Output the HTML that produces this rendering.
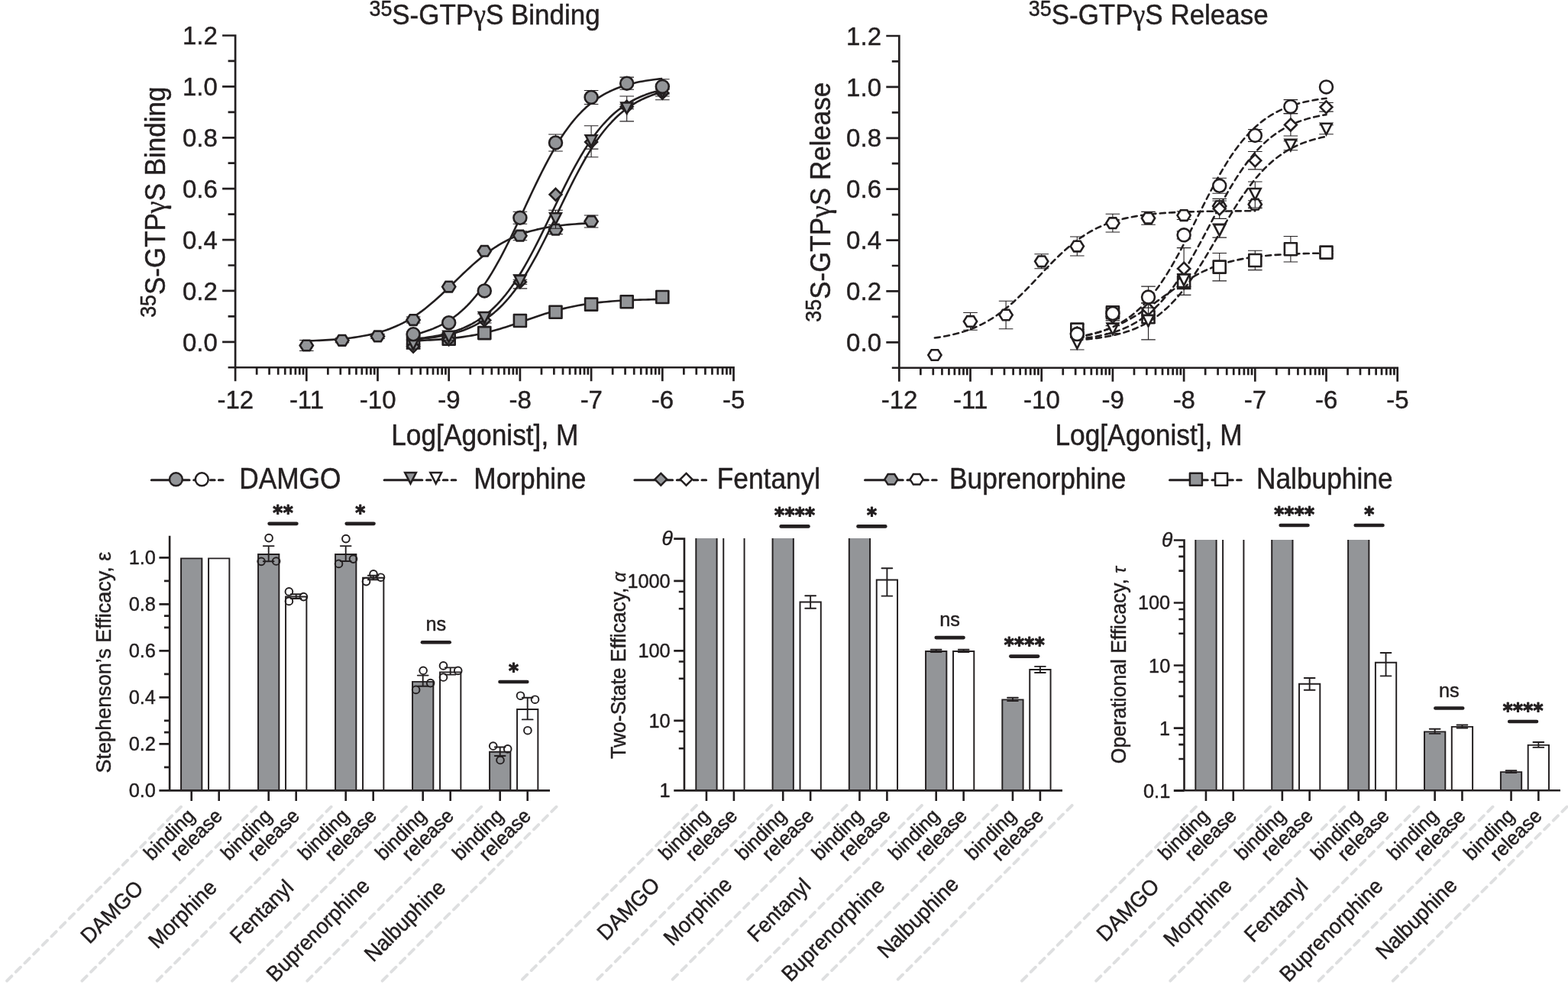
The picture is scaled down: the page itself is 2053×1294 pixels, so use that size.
<!DOCTYPE html>
<html lang="en">
<head>
<meta charset="utf-8">
<title>GTPγS binding and release efficacy figure</title>
<style>
html,body{margin:0;padding:0;background:#fff;}
body{width:2053px;height:1294px;overflow:hidden;}
svg{display:block;}
text{white-space:pre;}
</style>
</head>
<body>
<svg xmlns="http://www.w3.org/2000/svg" width="2053" height="1294" viewBox="0 0 2053 1294" font-family='"Liberation Sans", sans-serif' fill="#231f20">
<rect width="2053" height="1294" fill="#fff"/>
<g stroke="#231f20" stroke-width="0.45" stroke-linejoin="round">
<g>
<text transform="translate(634.6 32.2) scale(1 1.08)" font-size="35" text-anchor="middle"><tspan font-size="26.78" dy="-10.82">35</tspan><tspan dy="10.82">S-GTP</tspan><tspan font-family='"Liberation Serif", serif' font-size="35.7">γ</tspan><tspan>S Binding</tspan></text>
<text transform="translate(215.5 264.7) rotate(-90) scale(1 1.08)" font-size="35" text-anchor="middle"><tspan font-size="26.78" dy="-10.82">35</tspan><tspan dy="10.82">S-GTP</tspan><tspan font-family='"Liberation Serif", serif' font-size="35.7">γ</tspan><tspan>S Binding</tspan></text>
<text transform="translate(634.8 583.4) scale(1 1.08)" font-size="35.3" text-anchor="middle">Log[Agonist], M</text>
<path d="M308.1 45.17V499.24M298.6 481.24H961.85M291.1 447.8H308.1M298.6 414.36H308.1M291.1 380.92H308.1M298.6 347.48H308.1M291.1 314.04H308.1M298.6 280.6H308.1M291.1 247.16H308.1M298.6 213.72H308.1M291.1 180.28H308.1M298.6 146.84H308.1M291.1 113.4H308.1M298.6 79.96H308.1M291.1 46.52H308.1M336.16 481.24V490.74M352.57 481.24V490.74M364.21 481.24V490.74M373.24 481.24V490.74M380.62 481.24V490.74M386.86 481.24V490.74M392.27 481.24V490.74M397.04 481.24V490.74M401.3 481.24V499.24M429.36 481.24V490.74M445.77 481.24V490.74M457.41 481.24V490.74M466.44 481.24V490.74M473.82 481.24V490.74M480.06 481.24V490.74M485.47 481.24V490.74M490.24 481.24V490.74M494.5 481.24V499.24M522.56 481.24V490.74M538.97 481.24V490.74M550.61 481.24V490.74M559.64 481.24V490.74M567.02 481.24V490.74M573.26 481.24V490.74M578.67 481.24V490.74M583.44 481.24V490.74M587.7 481.24V499.24M615.76 481.24V490.74M632.17 481.24V490.74M643.81 481.24V490.74M652.84 481.24V490.74M660.22 481.24V490.74M666.46 481.24V490.74M671.87 481.24V490.74M676.64 481.24V490.74M680.9 481.24V499.24M708.96 481.24V490.74M725.37 481.24V490.74M737.01 481.24V490.74M746.04 481.24V490.74M753.42 481.24V490.74M759.66 481.24V490.74M765.07 481.24V490.74M769.84 481.24V490.74M774.1 481.24V499.24M802.16 481.24V490.74M818.57 481.24V490.74M830.21 481.24V490.74M839.24 481.24V490.74M846.62 481.24V490.74M852.86 481.24V490.74M858.27 481.24V490.74M863.04 481.24V490.74M867.3 481.24V499.24M895.36 481.24V490.74M911.77 481.24V490.74M923.41 481.24V490.74M932.44 481.24V490.74M939.82 481.24V490.74M946.06 481.24V490.74M951.47 481.24V490.74M956.24 481.24V490.74M960.5 481.24V499.24" fill="none" stroke="#231f20" stroke-width="2.7"/>
<text transform="translate(284.8 459.5) scale(1 1.02)" font-size="33" text-anchor="end">0.0</text>
<text transform="translate(284.8 392.62) scale(1 1.02)" font-size="33" text-anchor="end">0.2</text>
<text transform="translate(284.8 325.74) scale(1 1.02)" font-size="33" text-anchor="end">0.4</text>
<text transform="translate(284.8 258.86) scale(1 1.02)" font-size="33" text-anchor="end">0.6</text>
<text transform="translate(284.8 191.98) scale(1 1.02)" font-size="33" text-anchor="end">0.8</text>
<text transform="translate(284.8 125.1) scale(1 1.02)" font-size="33" text-anchor="end">1.0</text>
<text transform="translate(284.8 58.22) scale(1 1.02)" font-size="33" text-anchor="end">1.2</text>
<text transform="translate(308.3 534.6) scale(1 1.02)" font-size="33" text-anchor="middle">-12</text>
<text transform="translate(401.5 534.6) scale(1 1.02)" font-size="33" text-anchor="middle">-11</text>
<text transform="translate(494.7 534.6) scale(1 1.02)" font-size="33" text-anchor="middle">-10</text>
<text transform="translate(587.9 534.6) scale(1 1.02)" font-size="33" text-anchor="middle">-9</text>
<text transform="translate(681.1 534.6) scale(1 1.02)" font-size="33" text-anchor="middle">-8</text>
<text transform="translate(774.3 534.6) scale(1 1.02)" font-size="33" text-anchor="middle">-7</text>
<text transform="translate(867.5 534.6) scale(1 1.02)" font-size="33" text-anchor="middle">-6</text>
<text transform="translate(960.7 534.6) scale(1 1.02)" font-size="33" text-anchor="middle">-5</text>
<path d="M541.1 446.35L544.77 446.22L548.43 446.08L552.1 445.92L555.76 445.75L559.43 445.56L563.09 445.36L566.76 445.14L570.42 444.9L574.09 444.64L577.75 444.36L581.42 444.05L585.08 443.72L588.75 443.36L592.41 442.98L596.08 442.57L599.74 442.12L603.41 441.64L607.07 441.13L610.74 440.57L614.4 439.98L618.07 439.35L621.73 438.68L625.4 437.97L629.06 437.21L632.73 436.41L636.39 435.56L640.06 434.67L643.72 433.74L647.39 432.76L651.06 431.74L654.72 430.68L658.39 429.58L662.05 428.44L665.72 427.28L669.38 426.08L673.05 424.86L676.71 423.61L680.38 422.35L684.04 421.08L687.71 419.8L691.37 418.52L695.04 417.25L698.7 415.98L702.37 414.73L706.03 413.5L709.7 412.29L713.36 411.11L717.03 409.96L720.69 408.85L724.36 407.77L728.02 406.73L731.69 405.74L735.35 404.79L739.02 403.88L742.68 403.01L746.35 402.19L750.01 401.42L753.68 400.69L757.34 400L761.01 399.35L764.68 398.75L768.34 398.18L772.01 397.65L775.67 397.16L779.34 396.7L783 396.27L786.67 395.87L790.33 395.51L794 395.17L797.66 394.85L801.33 394.56L804.99 394.29L808.66 394.04L812.32 393.82L815.99 393.61L819.65 393.41L823.32 393.24L826.98 393.07L830.65 392.92L834.31 392.78L837.98 392.66L841.64 392.54L845.31 392.44L848.97 392.34L852.64 392.25L856.3 392.17L859.97 392.09L863.63 392.02L867.3 391.96" fill="none" stroke="#231f20" stroke-width="2.6"/>
<rect x="533.1" y="439.8" width="16" height="16" fill="#939598" stroke="#231f20" stroke-width="2.6"/>
<rect x="579.7" y="435.79" width="16" height="16" fill="#939598" stroke="#231f20" stroke-width="2.6"/>
<rect x="626.3" y="428.1" width="16" height="16" fill="#939598" stroke="#231f20" stroke-width="2.6"/>
<rect x="672.9" y="412.04" width="16" height="16" fill="#939598" stroke="#231f20" stroke-width="2.6"/>
<rect x="719.5" y="400.68" width="16" height="16" fill="#939598" stroke="#231f20" stroke-width="2.6"/>
<rect x="766.1" y="390.64" width="16" height="16" fill="#939598" stroke="#231f20" stroke-width="2.6"/>
<rect x="812.7" y="387.3" width="16" height="16" fill="#939598" stroke="#231f20" stroke-width="2.6"/>
<rect x="859.3" y="380.95" width="16" height="16" fill="#939598" stroke="#231f20" stroke-width="2.6"/>
<path d="M401.3 446.51L405.49 446.37L409.68 446.22L413.87 446.05L418.06 445.86L422.24 445.65L426.43 445.42L430.62 445.16L434.81 444.88L439 444.57L443.19 444.22L447.38 443.84L451.57 443.42L455.75 442.96L459.94 442.45L464.13 441.89L468.32 441.27L472.51 440.59L476.7 439.84L480.89 439.02L485.08 438.13L489.26 437.14L493.45 436.07L497.64 434.89L501.83 433.61L506.02 432.22L510.21 430.7L514.4 429.06L518.59 427.28L522.77 425.37L526.96 423.3L531.15 421.08L535.34 418.71L539.53 416.17L543.72 413.47L547.91 410.62L552.1 407.6L556.28 404.42L560.47 401.09L564.66 397.62L568.85 394.02L573.04 390.3L577.23 386.47L581.42 382.55L585.61 378.56L589.79 374.53L593.98 370.46L598.17 366.39L602.36 362.33L606.55 358.3L610.74 354.34L614.93 350.45L619.12 346.65L623.3 342.96L627.49 339.4L631.68 335.97L635.87 332.69L640.06 329.56L644.25 326.59L648.44 323.78L652.63 321.13L656.81 318.65L661 316.32L665.19 314.15L669.38 312.13L673.57 310.25L677.76 308.52L681.95 306.92L686.14 305.44L690.32 304.08L694.51 302.83L698.7 301.69L702.89 300.64L707.08 299.69L711.27 298.81L715.46 298.02L719.65 297.29L723.83 296.63L728.02 296.03L732.21 295.49L736.4 294.99L740.59 294.54L744.78 294.14L748.97 293.77L753.16 293.43L757.34 293.13L761.53 292.86L765.72 292.61L769.91 292.38L774.1 292.18" fill="none" stroke="#231f20" stroke-width="2.6"/>
<path d="M401.3 445.48V459.48M392 445.48H410.6M392 459.48H410.6" fill="none" stroke="#231f20" stroke-width="1.1"/>
<path d="M447.9 442.79V448.79M438.6 442.79H457.2M438.6 448.79H457.2" fill="none" stroke="#231f20" stroke-width="1.1"/>
<path d="M494.5 437.44V443.44M485.2 437.44H503.8M485.2 443.44H503.8" fill="none" stroke="#231f20" stroke-width="1.1"/>
<path d="M541.1 415.04V423.04M531.8 415.04H550.4M531.8 423.04H550.4" fill="none" stroke="#231f20" stroke-width="1.1"/>
<path d="M680.9 302.69V314.69M671.6 302.69H690.2M671.6 314.69H690.2" fill="none" stroke="#231f20" stroke-width="1.1"/>
<path d="M727.5 294.66V306.66M718.2 294.66H736.8M718.2 306.66H736.8" fill="none" stroke="#231f20" stroke-width="1.1"/>
<path d="M774.1 281.96V297.96M764.8 281.96H783.4M764.8 297.96H783.4" fill="none" stroke="#231f20" stroke-width="1.1"/>
<polygon points="392.7,452.48 397,445.68 405.6,445.68 409.9,452.48 405.6,459.28 397,459.28" fill="#939598" stroke="#231f20" stroke-width="2.6" stroke-linejoin="miter"/>
<polygon points="439.3,445.79 443.6,438.99 452.2,438.99 456.5,445.79 452.2,452.59 443.6,452.59" fill="#939598" stroke="#231f20" stroke-width="2.6" stroke-linejoin="miter"/>
<polygon points="485.9,440.44 490.2,433.64 498.8,433.64 503.1,440.44 498.8,447.24 490.2,447.24" fill="#939598" stroke="#231f20" stroke-width="2.6" stroke-linejoin="miter"/>
<polygon points="532.5,419.04 536.8,412.24 545.4,412.24 549.7,419.04 545.4,425.84 536.8,425.84" fill="#939598" stroke="#231f20" stroke-width="2.6" stroke-linejoin="miter"/>
<polygon points="579.1,375.57 583.4,368.77 592,368.77 596.3,375.57 592,382.37 583.4,382.37" fill="#939598" stroke="#231f20" stroke-width="2.6" stroke-linejoin="miter"/>
<polygon points="625.7,328.75 630,321.95 638.6,321.95 642.9,328.75 638.6,335.55 630,335.55" fill="#939598" stroke="#231f20" stroke-width="2.6" stroke-linejoin="miter"/>
<polygon points="672.3,308.69 676.6,301.89 685.2,301.89 689.5,308.69 685.2,315.49 676.6,315.49" fill="#939598" stroke="#231f20" stroke-width="2.6" stroke-linejoin="miter"/>
<polygon points="718.9,300.66 723.2,293.86 731.8,293.86 736.1,300.66 731.8,307.46 723.2,307.46" fill="#939598" stroke="#231f20" stroke-width="2.6" stroke-linejoin="miter"/>
<polygon points="765.5,289.96 769.8,283.16 778.4,283.16 782.7,289.96 778.4,296.76 769.8,296.76" fill="#939598" stroke="#231f20" stroke-width="2.6" stroke-linejoin="miter"/>
<path d="M541.1 444.03L544.77 443.68L548.43 443.3L552.1 442.88L555.76 442.42L559.43 441.91L563.09 441.37L566.76 440.77L570.42 440.12L574.09 439.41L577.75 438.64L581.42 437.79L585.08 436.87L588.75 435.88L592.41 434.79L596.08 433.61L599.74 432.32L603.41 430.93L607.07 429.42L610.74 427.78L614.4 426L618.07 424.08L621.73 422L625.4 419.76L629.06 417.34L632.73 414.74L636.39 411.93L640.06 408.92L643.72 405.69L647.39 402.24L651.06 398.55L654.72 394.61L658.39 390.42L662.05 385.98L665.72 381.26L669.38 376.29L673.05 371.04L676.71 365.53L680.38 359.76L684.04 353.72L687.71 347.44L691.37 340.93L695.04 334.19L698.7 327.25L702.37 320.12L706.03 312.83L709.7 305.4L713.36 297.87L717.03 290.26L720.69 282.59L724.36 274.91L728.02 267.24L731.69 259.62L735.35 252.06L739.02 244.62L742.68 237.3L746.35 230.15L750.01 223.17L753.68 216.4L757.34 209.84L761.01 203.52L764.68 197.44L768.34 191.62L772.01 186.07L775.67 180.78L779.34 175.75L783 171L786.67 166.5L790.33 162.27L794 158.29L797.66 154.56L801.33 151.06L804.99 147.8L808.66 144.75L812.32 141.91L815.99 139.28L819.65 136.83L823.32 134.55L826.98 132.45L830.65 130.5L834.31 128.7L837.98 127.04L841.64 125.51L845.31 124.09L848.97 122.79L852.64 121.59L856.3 120.49L859.97 119.47L863.63 118.54L867.3 117.69" fill="none" stroke="#231f20" stroke-width="2.6"/>
<path d="M541.1 450.82V456.82M531.8 450.82H550.4M531.8 456.82H550.4" fill="none" stroke="#231f20" stroke-width="1.1"/>
<path d="M587.7 442.46V446.46M578.4 442.46H597M578.4 446.46H597" fill="none" stroke="#231f20" stroke-width="1.1"/>
<path d="M680.9 366.22V372.22M671.6 366.22H690.2M671.6 372.22H690.2" fill="none" stroke="#231f20" stroke-width="1.1"/>
<path d="M774.1 176.76V195.16M764.8 176.76H783.4M764.8 195.16H783.4" fill="none" stroke="#231f20" stroke-width="1.1"/>
<path d="M820.7 136.82V142.82M811.4 136.82H830M811.4 142.82H830" fill="none" stroke="#231f20" stroke-width="1.1"/>
<path d="M867.3 112.76V130.76M858 112.76H876.6M858 130.76H876.6" fill="none" stroke="#231f20" stroke-width="1.1"/>
<polygon points="541.1,445.92 549,453.82 541.1,461.72 533.2,453.82" fill="#939598" stroke="#231f20" stroke-width="2.6" stroke-linejoin="miter"/>
<polygon points="587.7,436.56 595.6,444.46 587.7,452.36 579.8,444.46" fill="#939598" stroke="#231f20" stroke-width="2.6" stroke-linejoin="miter"/>
<polygon points="634.3,411.48 642.2,419.38 634.3,427.28 626.4,419.38" fill="#939598" stroke="#231f20" stroke-width="2.6" stroke-linejoin="miter"/>
<polygon points="680.9,361.32 688.8,369.22 680.9,377.12 673,369.22" fill="#939598" stroke="#231f20" stroke-width="2.6" stroke-linejoin="miter"/>
<polygon points="727.5,246.95 735.4,254.85 727.5,262.75 719.6,254.85" fill="#939598" stroke="#231f20" stroke-width="2.6" stroke-linejoin="miter"/>
<polygon points="774.1,178.06 782,185.96 774.1,193.86 766.2,185.96" fill="#939598" stroke="#231f20" stroke-width="2.6" stroke-linejoin="miter"/>
<polygon points="820.7,131.92 828.6,139.82 820.7,147.72 812.8,139.82" fill="#939598" stroke="#231f20" stroke-width="2.6" stroke-linejoin="miter"/>
<polygon points="867.3,113.86 875.2,121.76 867.3,129.66 859.4,121.76" fill="#939598" stroke="#231f20" stroke-width="2.6" stroke-linejoin="miter"/>
<path d="M541.1 444.67L544.77 444.38L548.43 444.06L552.1 443.71L555.76 443.32L559.43 442.91L563.09 442.45L566.76 441.95L570.42 441.41L574.09 440.81L577.75 440.17L581.42 439.46L585.08 438.69L588.75 437.85L592.41 436.94L596.08 435.95L599.74 434.87L603.41 433.69L607.07 432.41L610.74 431.03L614.4 429.53L618.07 427.89L621.73 426.13L625.4 424.22L629.06 422.15L632.73 419.92L636.39 417.52L640.06 414.93L643.72 412.14L647.39 409.14L651.06 405.93L654.72 402.5L658.39 398.82L662.05 394.91L665.72 390.74L669.38 386.31L673.05 381.63L676.71 376.67L680.38 371.45L684.04 365.97L687.71 360.22L691.37 354.21L695.04 347.96L698.7 341.47L702.37 334.76L706.03 327.84L709.7 320.74L713.36 313.48L717.03 306.08L720.69 298.57L724.36 290.98L728.02 283.34L731.69 275.68L735.35 268.04L739.02 260.43L742.68 252.9L746.35 245.47L750.01 238.17L753.68 231.03L757.34 224.07L761.01 217.31L764.68 210.76L768.34 204.45L772.01 198.39L775.67 192.58L779.34 187.03L783 181.74L786.67 176.72L790.33 171.97L794 167.49L797.66 163.26L801.33 159.28L804.99 155.55L808.66 152.06L812.32 148.79L815.99 145.75L819.65 142.91L823.32 140.28L826.98 137.83L830.65 135.55L834.31 133.45L837.98 131.5L841.64 129.7L845.31 128.04L848.97 126.51L852.64 125.09L856.3 123.79L859.97 122.59L863.63 121.49L867.3 120.48" fill="none" stroke="#231f20" stroke-width="2.6"/>
<path d="M541.1 445.14V457.14M531.8 445.14H550.4M531.8 457.14H550.4" fill="none" stroke="#231f20" stroke-width="1.1"/>
<path d="M587.7 437.78V445.78M578.4 437.78H597M578.4 445.78H597" fill="none" stroke="#231f20" stroke-width="1.1"/>
<path d="M634.3 411.04V423.04M625 411.04H643.6M625 423.04H643.6" fill="none" stroke="#231f20" stroke-width="1.1"/>
<path d="M680.9 359.88V377.88M671.6 359.88H690.2M671.6 377.88H690.2" fill="none" stroke="#231f20" stroke-width="1.1"/>
<path d="M727.5 275.29V299.29M718.2 275.29H736.8M718.2 299.29H736.8" fill="none" stroke="#231f20" stroke-width="1.1"/>
<path d="M774.1 164.8V205.8M764.8 164.8H783.4M764.8 205.8H783.4" fill="none" stroke="#231f20" stroke-width="1.1"/>
<path d="M820.7 126.06V158.86M811.4 126.06H830M811.4 158.86H830" fill="none" stroke="#231f20" stroke-width="1.1"/>
<path d="M867.3 116.83V126.03M858 116.83H876.6M858 126.03H876.6" fill="none" stroke="#231f20" stroke-width="1.1"/>
<polygon points="533.75,443.16 548.45,443.16 541.1,457.56" fill="#939598" stroke="#231f20" stroke-width="2.6" stroke-linejoin="miter"/>
<polygon points="580.35,433.8 595.05,433.8 587.7,448.2" fill="#939598" stroke="#231f20" stroke-width="2.6" stroke-linejoin="miter"/>
<polygon points="626.95,409.06 641.65,409.06 634.3,423.46" fill="#939598" stroke="#231f20" stroke-width="2.6" stroke-linejoin="miter"/>
<polygon points="673.55,360.9 688.25,360.9 680.9,375.3" fill="#939598" stroke="#231f20" stroke-width="2.6" stroke-linejoin="miter"/>
<polygon points="720.15,279.31 734.85,279.31 727.5,293.71" fill="#939598" stroke="#231f20" stroke-width="2.6" stroke-linejoin="miter"/>
<polygon points="766.75,177.32 781.45,177.32 774.1,191.72" fill="#939598" stroke="#231f20" stroke-width="2.6" stroke-linejoin="miter"/>
<polygon points="813.35,134.48 828.05,134.48 820.7,148.88" fill="#939598" stroke="#231f20" stroke-width="2.6" stroke-linejoin="miter"/>
<polygon points="859.95,113.45 874.65,113.45 867.3,127.85" fill="#939598" stroke="#231f20" stroke-width="2.6" stroke-linejoin="miter"/>
<path d="M541.1 438.45L544.77 437.59L548.43 436.65L552.1 435.64L555.76 434.53L559.43 433.32L563.09 432.01L566.76 430.59L570.42 429.04L574.09 427.37L577.75 425.56L581.42 423.6L585.08 421.47L588.75 419.18L592.41 416.71L596.08 414.05L599.74 411.19L603.41 408.11L607.07 404.82L610.74 401.29L614.4 397.51L618.07 393.49L621.73 389.21L625.4 384.66L629.06 379.84L632.73 374.75L636.39 369.38L640.06 363.74L643.72 357.83L647.39 351.65L651.06 345.22L654.72 338.54L658.39 331.64L662.05 324.52L665.72 317.21L669.38 309.73L673.05 302.11L676.71 294.38L680.38 286.56L684.04 278.69L687.71 270.79L691.37 262.91L695.04 255.07L698.7 247.3L702.37 239.64L706.03 232.11L709.7 224.75L713.36 217.56L717.03 210.58L720.69 203.83L724.36 197.31L728.02 191.04L731.69 185.04L735.35 179.31L739.02 173.85L742.68 168.67L746.35 163.76L750.01 159.12L753.68 154.75L757.34 150.64L761.01 146.78L764.68 143.17L768.34 139.79L772.01 136.64L775.67 133.71L779.34 130.98L783 128.45L786.67 126.1L790.33 123.92L794 121.91L797.66 120.05L801.33 118.33L804.99 116.74L808.66 115.28L812.32 113.93L815.99 112.69L819.65 111.55L823.32 110.5L826.98 109.54L830.65 108.65L834.31 107.84L837.98 107.09L841.64 106.41L845.31 105.78L848.97 105.21L852.64 104.68L856.3 104.2L859.97 103.76L863.63 103.35L867.3 102.98" fill="none" stroke="#231f20" stroke-width="2.6"/>
<path d="M680.9 277.28V293.28M671.6 277.28H690.2M671.6 293.28H690.2" fill="none" stroke="#231f20" stroke-width="1.1"/>
<path d="M727.5 175.97V197.97M718.2 175.97H736.8M718.2 197.97H736.8" fill="none" stroke="#231f20" stroke-width="1.1"/>
<path d="M774.1 118.44V136.44M764.8 118.44H783.4M764.8 136.44H783.4" fill="none" stroke="#231f20" stroke-width="1.1"/>
<path d="M820.7 101.12V117.32M811.4 101.12H830M811.4 117.32H830" fill="none" stroke="#231f20" stroke-width="1.1"/>
<path d="M867.3 103.7V123.1M858 103.7H876.6M858 123.1H876.6" fill="none" stroke="#231f20" stroke-width="1.1"/>
<circle cx="541.1" cy="437.77" r="8.45" fill="#939598" stroke="#231f20" stroke-width="2.6"/>
<circle cx="587.7" cy="422.72" r="8.45" fill="#939598" stroke="#231f20" stroke-width="2.6"/>
<circle cx="634.3" cy="380.92" r="8.45" fill="#939598" stroke="#231f20" stroke-width="2.6"/>
<circle cx="680.9" cy="285.28" r="8.45" fill="#939598" stroke="#231f20" stroke-width="2.6"/>
<circle cx="727.5" cy="186.97" r="8.45" fill="#939598" stroke="#231f20" stroke-width="2.6"/>
<circle cx="774.1" cy="127.44" r="8.45" fill="#939598" stroke="#231f20" stroke-width="2.6"/>
<circle cx="820.7" cy="109.22" r="8.45" fill="#939598" stroke="#231f20" stroke-width="2.6"/>
<circle cx="867.3" cy="113.4" r="8.45" fill="#939598" stroke="#231f20" stroke-width="2.6"/>
</g>
<g>
<text transform="translate(1503.8 32.2) scale(1 1.08)" font-size="35" text-anchor="middle"><tspan font-size="26.78" dy="-10.82">35</tspan><tspan dy="10.82">S-GTP</tspan><tspan font-family='"Liberation Serif", serif' font-size="35.7">γ</tspan><tspan>S Release</tspan></text>
<text transform="translate(1087 264.7) rotate(-90) scale(1 1.08)" font-size="35" text-anchor="middle"><tspan font-size="26.78" dy="-10.82">35</tspan><tspan dy="10.82">S-GTP</tspan><tspan font-family='"Liberation Serif", serif' font-size="35.7">γ</tspan><tspan>S Release</tspan></text>
<text transform="translate(1504 583.4) scale(1 1.08)" font-size="35.3" text-anchor="middle">Log[Agonist], M</text>
<path d="M1177.3 45.67V499.74M1167.8 481.74H1831.05M1160.3 448.3H1177.3M1167.8 414.86H1177.3M1160.3 381.42H1177.3M1167.8 347.98H1177.3M1160.3 314.54H1177.3M1167.8 281.1H1177.3M1160.3 247.66H1177.3M1167.8 214.22H1177.3M1160.3 180.78H1177.3M1167.8 147.34H1177.3M1160.3 113.9H1177.3M1167.8 80.46H1177.3M1160.3 47.02H1177.3M1205.36 481.74V491.24M1221.77 481.74V491.24M1233.41 481.74V491.24M1242.44 481.74V491.24M1249.82 481.74V491.24M1256.06 481.74V491.24M1261.47 481.74V491.24M1266.24 481.74V491.24M1270.5 481.74V499.74M1298.56 481.74V491.24M1314.97 481.74V491.24M1326.61 481.74V491.24M1335.64 481.74V491.24M1343.02 481.74V491.24M1349.26 481.74V491.24M1354.67 481.74V491.24M1359.44 481.74V491.24M1363.7 481.74V499.74M1391.76 481.74V491.24M1408.17 481.74V491.24M1419.81 481.74V491.24M1428.84 481.74V491.24M1436.22 481.74V491.24M1442.46 481.74V491.24M1447.87 481.74V491.24M1452.64 481.74V491.24M1456.9 481.74V499.74M1484.96 481.74V491.24M1501.37 481.74V491.24M1513.01 481.74V491.24M1522.04 481.74V491.24M1529.42 481.74V491.24M1535.66 481.74V491.24M1541.07 481.74V491.24M1545.84 481.74V491.24M1550.1 481.74V499.74M1578.16 481.74V491.24M1594.57 481.74V491.24M1606.21 481.74V491.24M1615.24 481.74V491.24M1622.62 481.74V491.24M1628.86 481.74V491.24M1634.27 481.74V491.24M1639.04 481.74V491.24M1643.3 481.74V499.74M1671.36 481.74V491.24M1687.77 481.74V491.24M1699.41 481.74V491.24M1708.44 481.74V491.24M1715.82 481.74V491.24M1722.06 481.74V491.24M1727.47 481.74V491.24M1732.24 481.74V491.24M1736.5 481.74V499.74M1764.56 481.74V491.24M1780.97 481.74V491.24M1792.61 481.74V491.24M1801.64 481.74V491.24M1809.02 481.74V491.24M1815.26 481.74V491.24M1820.67 481.74V491.24M1825.44 481.74V491.24M1829.7 481.74V499.74" fill="none" stroke="#231f20" stroke-width="2.7"/>
<text transform="translate(1154 460) scale(1 1.02)" font-size="33" text-anchor="end">0.0</text>
<text transform="translate(1154 393.12) scale(1 1.02)" font-size="33" text-anchor="end">0.2</text>
<text transform="translate(1154 326.24) scale(1 1.02)" font-size="33" text-anchor="end">0.4</text>
<text transform="translate(1154 259.36) scale(1 1.02)" font-size="33" text-anchor="end">0.6</text>
<text transform="translate(1154 192.48) scale(1 1.02)" font-size="33" text-anchor="end">0.8</text>
<text transform="translate(1154 125.6) scale(1 1.02)" font-size="33" text-anchor="end">1.0</text>
<text transform="translate(1154 58.72) scale(1 1.02)" font-size="33" text-anchor="end">1.2</text>
<text transform="translate(1177.5 534.6) scale(1 1.02)" font-size="33" text-anchor="middle">-12</text>
<text transform="translate(1270.7 534.6) scale(1 1.02)" font-size="33" text-anchor="middle">-11</text>
<text transform="translate(1363.9 534.6) scale(1 1.02)" font-size="33" text-anchor="middle">-10</text>
<text transform="translate(1457.1 534.6) scale(1 1.02)" font-size="33" text-anchor="middle">-9</text>
<text transform="translate(1550.3 534.6) scale(1 1.02)" font-size="33" text-anchor="middle">-8</text>
<text transform="translate(1643.5 534.6) scale(1 1.02)" font-size="33" text-anchor="middle">-7</text>
<text transform="translate(1736.7 534.6) scale(1 1.02)" font-size="33" text-anchor="middle">-6</text>
<text transform="translate(1829.9 534.6) scale(1 1.02)" font-size="33" text-anchor="middle">-5</text>
<path d="M1410.3 441.29L1413.97 440.67L1417.63 439.99L1421.3 439.27L1424.96 438.48L1428.63 437.64L1432.29 436.73L1435.96 435.75L1439.62 434.7L1443.29 433.57L1446.95 432.36L1450.62 431.07L1454.28 429.7L1457.95 428.24L1461.61 426.69L1465.28 425.04L1468.94 423.31L1472.61 421.48L1476.27 419.56L1479.94 417.55L1483.6 415.45L1487.27 413.27L1490.93 411L1494.6 408.66L1498.26 406.25L1501.93 403.78L1505.59 401.25L1509.26 398.67L1512.92 396.06L1516.59 393.43L1520.26 390.78L1523.92 388.12L1527.59 385.47L1531.25 382.84L1534.92 380.23L1538.58 377.66L1542.25 375.14L1545.91 372.67L1549.58 370.27L1553.24 367.94L1556.91 365.68L1560.57 363.51L1564.24 361.42L1567.9 359.42L1571.57 357.51L1575.23 355.7L1578.9 353.97L1582.56 352.34L1586.23 350.8L1589.89 349.35L1593.56 347.99L1597.22 346.71L1600.89 345.51L1604.55 344.4L1608.22 343.35L1611.88 342.38L1615.55 341.48L1619.21 340.64L1622.88 339.86L1626.54 339.14L1630.21 338.48L1633.88 337.86L1637.54 337.3L1641.21 336.77L1644.87 336.29L1648.54 335.84L1652.2 335.43L1655.87 335.06L1659.53 334.71L1663.2 334.39L1666.86 334.1L1670.53 333.83L1674.19 333.59L1677.86 333.36L1681.52 333.15L1685.19 332.97L1688.85 332.79L1692.52 332.63L1696.18 332.49L1699.85 332.35L1703.51 332.23L1707.18 332.12L1710.84 332.02L1714.51 331.92L1718.17 331.84L1721.84 331.76L1725.5 331.69L1729.17 331.62L1732.83 331.56L1736.5 331.51" fill="none" stroke="#231f20" stroke-width="2.6" stroke-dasharray="7 5.4" stroke-linecap="round"/>
<path d="M1410.3 424.58V438.58M1401 424.58H1419.6M1401 438.58H1419.6" fill="none" stroke="#231f20" stroke-width="1.1"/>
<path d="M1456.9 403.18V415.18M1447.6 403.18H1466.2M1447.6 415.18H1466.2" fill="none" stroke="#231f20" stroke-width="1.1"/>
<path d="M1503.5 407.19V423.19M1494.2 407.19H1512.8M1494.2 423.19H1512.8" fill="none" stroke="#231f20" stroke-width="1.1"/>
<path d="M1550.1 352.38V386.38M1540.8 352.38H1559.4M1540.8 386.38H1559.4" fill="none" stroke="#231f20" stroke-width="1.1"/>
<path d="M1596.7 331.45V367.85M1587.4 331.45H1606M1587.4 367.85H1606" fill="none" stroke="#231f20" stroke-width="1.1"/>
<path d="M1643.3 328.26V353.66M1634 328.26H1652.6M1634 353.66H1652.6" fill="none" stroke="#231f20" stroke-width="1.1"/>
<path d="M1689.9 309.44V343.04M1680.6 309.44H1699.2M1680.6 343.04H1699.2" fill="none" stroke="#231f20" stroke-width="1.1"/>
<path d="M1736.5 328.59V332.59M1727.2 328.59H1745.8M1727.2 332.59H1745.8" fill="none" stroke="#231f20" stroke-width="1.1"/>
<rect x="1402.3" y="423.58" width="16" height="16" fill="#fff" stroke="#231f20" stroke-width="2.6"/>
<rect x="1448.9" y="401.18" width="16" height="16" fill="#fff" stroke="#231f20" stroke-width="2.6"/>
<rect x="1495.5" y="407.19" width="16" height="16" fill="#fff" stroke="#231f20" stroke-width="2.6"/>
<rect x="1542.1" y="361.38" width="16" height="16" fill="#fff" stroke="#231f20" stroke-width="2.6"/>
<rect x="1588.7" y="341.65" width="16" height="16" fill="#fff" stroke="#231f20" stroke-width="2.6"/>
<rect x="1635.3" y="332.96" width="16" height="16" fill="#fff" stroke="#231f20" stroke-width="2.6"/>
<rect x="1681.9" y="318.24" width="16" height="16" fill="#fff" stroke="#231f20" stroke-width="2.6"/>
<rect x="1728.5" y="322.59" width="16" height="16" fill="#fff" stroke="#231f20" stroke-width="2.6"/>
<path d="M1223.9 442.53L1228.61 441.84L1233.32 441.08L1238.04 440.23L1242.75 439.28L1247.46 438.24L1252.17 437.08L1256.89 435.79L1261.6 434.37L1266.31 432.81L1271.02 431.08L1275.74 429.19L1280.45 427.12L1285.16 424.87L1289.87 422.41L1294.59 419.74L1299.3 416.86L1304.01 413.75L1308.72 410.43L1313.43 406.88L1318.15 403.1L1322.86 399.12L1327.57 394.93L1332.28 390.55L1337 385.99L1341.71 381.3L1346.42 376.47L1351.13 371.56L1355.85 366.58L1360.56 361.57L1365.27 356.56L1369.98 351.6L1374.7 346.7L1379.41 341.91L1384.12 337.24L1388.83 332.73L1393.54 328.4L1398.26 324.26L1402.97 320.32L1407.68 316.6L1412.39 313.11L1417.11 309.84L1421.82 306.79L1426.53 303.96L1431.24 301.35L1435.96 298.94L1440.67 296.73L1445.38 294.7L1450.09 292.86L1454.81 291.17L1459.52 289.65L1464.23 288.26L1468.94 287.01L1473.66 285.88L1478.37 284.85L1483.08 283.93L1487.79 283.11L1492.5 282.36L1497.22 281.7L1501.93 281.1L1506.64 280.56L1511.35 280.08L1516.07 279.65L1520.78 279.27L1525.49 278.92L1530.2 278.61L1534.92 278.34L1539.63 278.09L1544.34 277.88L1549.05 277.68L1553.77 277.51L1558.48 277.35L1563.19 277.21L1567.9 277.09L1572.61 276.98L1577.33 276.88L1582.04 276.79L1586.75 276.72L1591.46 276.65L1596.18 276.59L1600.89 276.53L1605.6 276.48L1610.31 276.44L1615.03 276.4L1619.74 276.36L1624.45 276.33L1629.16 276.31L1633.88 276.28L1638.59 276.26L1643.3 276.24" fill="none" stroke="#231f20" stroke-width="2.6" stroke-dasharray="7 5.4" stroke-linecap="round"/>
<path d="M1270.5 409.48V432.28M1261.2 409.48H1279.8M1261.2 432.28H1279.8" fill="none" stroke="#231f20" stroke-width="1.1"/>
<path d="M1317.1 394.22V430.82M1307.8 394.22H1326.4M1307.8 430.82H1326.4" fill="none" stroke="#231f20" stroke-width="1.1"/>
<path d="M1363.7 332.8V351.8M1354.4 332.8H1373M1354.4 351.8H1373" fill="none" stroke="#231f20" stroke-width="1.1"/>
<path d="M1410.3 310.07V335.07M1401 310.07H1419.6M1401 335.07H1419.6" fill="none" stroke="#231f20" stroke-width="1.1"/>
<path d="M1456.9 280.24V304.04M1447.6 280.24H1466.2M1447.6 304.04H1466.2" fill="none" stroke="#231f20" stroke-width="1.1"/>
<path d="M1503.5 277.38V294.18M1494.2 277.38H1512.8M1494.2 294.18H1512.8" fill="none" stroke="#231f20" stroke-width="1.1"/>
<path d="M1550.1 276.7V287.5M1540.8 276.7H1559.4M1540.8 287.5H1559.4" fill="none" stroke="#231f20" stroke-width="1.1"/>
<path d="M1596.7 263.06V277.06M1587.4 263.06H1606M1587.4 277.06H1606" fill="none" stroke="#231f20" stroke-width="1.1"/>
<path d="M1643.3 262.72V272.72M1634 262.72H1652.6M1634 272.72H1652.6" fill="none" stroke="#231f20" stroke-width="1.1"/>
<polygon points="1215.3,465.02 1219.6,458.22 1228.2,458.22 1232.5,465.02 1228.2,471.82 1219.6,471.82" fill="#fff" stroke="#231f20" stroke-width="2.6" stroke-linejoin="miter"/>
<polygon points="1261.9,420.88 1266.2,414.08 1274.8,414.08 1279.1,420.88 1274.8,427.68 1266.2,427.68" fill="#fff" stroke="#231f20" stroke-width="2.6" stroke-linejoin="miter"/>
<polygon points="1308.5,412.52 1312.8,405.72 1321.4,405.72 1325.7,412.52 1321.4,419.32 1312.8,419.32" fill="#fff" stroke="#231f20" stroke-width="2.6" stroke-linejoin="miter"/>
<polygon points="1355.1,342.3 1359.4,335.5 1368,335.5 1372.3,342.3 1368,349.1 1359.4,349.1" fill="#fff" stroke="#231f20" stroke-width="2.6" stroke-linejoin="miter"/>
<polygon points="1401.7,322.57 1406,315.77 1414.6,315.77 1418.9,322.57 1414.6,329.37 1406,329.37" fill="#fff" stroke="#231f20" stroke-width="2.6" stroke-linejoin="miter"/>
<polygon points="1448.3,292.14 1452.6,285.34 1461.2,285.34 1465.5,292.14 1461.2,298.94 1452.6,298.94" fill="#fff" stroke="#231f20" stroke-width="2.6" stroke-linejoin="miter"/>
<polygon points="1494.9,285.78 1499.2,278.98 1507.8,278.98 1512.1,285.78 1507.8,292.58 1499.2,292.58" fill="#fff" stroke="#231f20" stroke-width="2.6" stroke-linejoin="miter"/>
<polygon points="1541.5,282.1 1545.8,275.3 1554.4,275.3 1558.7,282.1 1554.4,288.9 1545.8,288.9" fill="#fff" stroke="#231f20" stroke-width="2.6" stroke-linejoin="miter"/>
<polygon points="1588.1,270.06 1592.4,263.26 1601,263.26 1605.3,270.06 1601,276.86 1592.4,276.86" fill="#fff" stroke="#231f20" stroke-width="2.6" stroke-linejoin="miter"/>
<polygon points="1634.7,267.72 1639,260.92 1647.6,260.92 1651.9,267.72 1647.6,274.52 1639,274.52" fill="#fff" stroke="#231f20" stroke-width="2.6" stroke-linejoin="miter"/>
<path d="M1410.3 444.12L1413.97 443.73L1417.63 443.3L1421.3 442.84L1424.96 442.33L1428.63 441.78L1432.29 441.17L1435.96 440.51L1439.62 439.8L1443.29 439.02L1446.95 438.16L1450.62 437.24L1454.28 436.23L1457.95 435.14L1461.61 433.95L1465.28 432.66L1468.94 431.26L1472.61 429.74L1476.27 428.1L1479.94 426.32L1483.6 424.4L1487.27 422.33L1490.93 420.1L1494.6 417.69L1498.26 415.11L1501.93 412.33L1505.59 409.36L1509.26 406.18L1512.92 402.78L1516.59 399.16L1520.26 395.31L1523.92 391.23L1527.59 386.91L1531.25 382.35L1534.92 377.55L1538.58 372.51L1542.25 367.24L1545.91 361.74L1549.58 356.02L1553.24 350.09L1556.91 343.96L1560.57 337.66L1564.24 331.2L1567.9 324.6L1571.57 317.89L1575.23 311.09L1578.9 304.23L1582.56 297.34L1586.23 290.44L1589.89 283.56L1593.56 276.73L1597.22 269.97L1600.89 263.32L1604.55 256.8L1608.22 250.43L1611.88 244.22L1615.55 238.21L1619.21 232.39L1622.88 226.79L1626.54 221.41L1630.21 216.27L1633.88 211.37L1637.54 206.7L1641.21 202.27L1644.87 198.09L1648.54 194.14L1652.2 190.42L1655.87 186.92L1659.53 183.65L1663.2 180.58L1666.86 177.72L1670.53 175.05L1674.19 172.57L1677.86 170.26L1681.52 168.12L1685.19 166.13L1688.85 164.3L1692.52 162.59L1696.18 161.02L1699.85 159.57L1703.51 158.24L1707.18 157L1710.84 155.87L1714.51 154.82L1718.17 153.86L1721.84 152.98L1725.5 152.17L1729.17 151.42L1732.83 150.74L1736.5 150.11" fill="none" stroke="#231f20" stroke-width="2.6" stroke-dasharray="7 5.4" stroke-linecap="round"/>
<path d="M1410.3 431.6V441.6M1401 431.6H1419.6M1401 441.6H1419.6" fill="none" stroke="#231f20" stroke-width="1.1"/>
<path d="M1456.9 409.86V419.86M1447.6 409.86H1466.2M1447.6 419.86H1466.2" fill="none" stroke="#231f20" stroke-width="1.1"/>
<path d="M1503.5 396.83V412.83M1494.2 396.83H1512.8M1494.2 412.83H1512.8" fill="none" stroke="#231f20" stroke-width="1.1"/>
<path d="M1550.1 324.66V378.66M1540.8 324.66H1559.4M1540.8 378.66H1559.4" fill="none" stroke="#231f20" stroke-width="1.1"/>
<path d="M1596.7 260.41V286.41M1587.4 260.41H1606M1587.4 286.41H1606" fill="none" stroke="#231f20" stroke-width="1.1"/>
<path d="M1643.3 198.51V221.91M1634 198.51H1652.6M1634 221.91H1652.6" fill="none" stroke="#231f20" stroke-width="1.1"/>
<path d="M1689.9 148.79V177.99M1680.6 148.79H1699.2M1680.6 177.99H1699.2" fill="none" stroke="#231f20" stroke-width="1.1"/>
<path d="M1736.5 134.52V146.12M1727.2 134.52H1745.8M1727.2 146.12H1745.8" fill="none" stroke="#231f20" stroke-width="1.1"/>
<polygon points="1410.3,428.7 1418.2,436.6 1410.3,444.5 1402.4,436.6" fill="#fff" stroke="#231f20" stroke-width="2.6" stroke-linejoin="miter"/>
<polygon points="1456.9,406.96 1464.8,414.86 1456.9,422.76 1449,414.86" fill="#fff" stroke="#231f20" stroke-width="2.6" stroke-linejoin="miter"/>
<polygon points="1503.5,396.93 1511.4,404.83 1503.5,412.73 1495.6,404.83" fill="#fff" stroke="#231f20" stroke-width="2.6" stroke-linejoin="miter"/>
<polygon points="1550.1,343.76 1558,351.66 1550.1,359.56 1542.2,351.66" fill="#fff" stroke="#231f20" stroke-width="2.6" stroke-linejoin="miter"/>
<polygon points="1596.7,265.51 1604.6,273.41 1596.7,281.31 1588.8,273.41" fill="#fff" stroke="#231f20" stroke-width="2.6" stroke-linejoin="miter"/>
<polygon points="1643.3,202.31 1651.2,210.21 1643.3,218.11 1635.4,210.21" fill="#fff" stroke="#231f20" stroke-width="2.6" stroke-linejoin="miter"/>
<polygon points="1689.9,155.49 1697.8,163.39 1689.9,171.29 1682,163.39" fill="#fff" stroke="#231f20" stroke-width="2.6" stroke-linejoin="miter"/>
<polygon points="1736.5,132.42 1744.4,140.32 1736.5,148.22 1728.6,140.32" fill="#fff" stroke="#231f20" stroke-width="2.6" stroke-linejoin="miter"/>
<path d="M1410.3 445.4L1413.97 445.13L1417.63 444.83L1421.3 444.5L1424.96 444.15L1428.63 443.76L1432.29 443.34L1435.96 442.88L1439.62 442.38L1443.29 441.83L1446.95 441.23L1450.62 440.58L1454.28 439.87L1457.95 439.1L1461.61 438.26L1465.28 437.34L1468.94 436.35L1472.61 435.27L1476.27 434.1L1479.94 432.83L1483.6 431.45L1487.27 429.96L1490.93 428.34L1494.6 426.6L1498.26 424.72L1501.93 422.69L1505.59 420.5L1509.26 418.16L1512.92 415.63L1516.59 412.93L1520.26 410.04L1523.92 406.96L1527.59 403.67L1531.25 400.17L1534.92 396.46L1538.58 392.54L1542.25 388.39L1545.91 384.03L1549.58 379.45L1553.24 374.66L1556.91 369.65L1560.57 364.45L1564.24 359.06L1567.9 353.49L1571.57 347.76L1575.23 341.88L1578.9 335.88L1582.56 329.78L1586.23 323.59L1589.89 317.35L1593.56 311.07L1597.22 304.79L1600.89 298.53L1604.55 292.31L1608.22 286.17L1611.88 280.11L1615.55 274.17L1619.21 268.37L1622.88 262.72L1626.54 257.24L1630.21 251.94L1633.88 246.84L1637.54 241.94L1641.21 237.25L1644.87 232.78L1648.54 228.53L1652.2 224.5L1655.87 220.68L1659.53 217.08L1663.2 213.69L1666.86 210.5L1670.53 207.52L1674.19 204.72L1677.86 202.12L1681.52 199.68L1685.19 197.42L1688.85 195.31L1692.52 193.36L1696.18 191.55L1699.85 189.87L1703.51 188.32L1707.18 186.89L1710.84 185.57L1714.51 184.35L1718.17 183.22L1721.84 182.19L1725.5 181.23L1729.17 180.36L1732.83 179.55L1736.5 178.81" fill="none" stroke="#231f20" stroke-width="2.6" stroke-dasharray="7 5.4" stroke-linecap="round"/>
<path d="M1410.3 441.97V457.97M1401 441.97H1419.6M1401 457.97H1419.6" fill="none" stroke="#231f20" stroke-width="1.1"/>
<path d="M1456.9 426.58V436.58M1447.6 426.58H1466.2M1447.6 436.58H1466.2" fill="none" stroke="#231f20" stroke-width="1.1"/>
<path d="M1503.5 396.88V444.88M1494.2 396.88H1512.8M1494.2 444.88H1512.8" fill="none" stroke="#231f20" stroke-width="1.1"/>
<path d="M1550.1 359.38V375.38M1540.8 359.38H1559.4M1540.8 375.38H1559.4" fill="none" stroke="#231f20" stroke-width="1.1"/>
<path d="M1596.7 293.17V311.17M1587.4 293.17H1606M1587.4 311.17H1606" fill="none" stroke="#231f20" stroke-width="1.1"/>
<path d="M1643.3 238.02V272.02M1634 238.02H1652.6M1634 272.02H1652.6" fill="none" stroke="#231f20" stroke-width="1.1"/>
<path d="M1689.9 184.81V196.81M1680.6 184.81H1699.2M1680.6 196.81H1699.2" fill="none" stroke="#231f20" stroke-width="1.1"/>
<path d="M1736.5 163.74V175.74M1727.2 163.74H1745.8M1727.2 175.74H1745.8" fill="none" stroke="#231f20" stroke-width="1.1"/>
<polygon points="1402.95,441.99 1417.65,441.99 1410.3,456.39" fill="#fff" stroke="#231f20" stroke-width="2.6" stroke-linejoin="miter"/>
<polygon points="1449.55,423.6 1464.25,423.6 1456.9,438" fill="#fff" stroke="#231f20" stroke-width="2.6" stroke-linejoin="miter"/>
<polygon points="1496.15,412.9 1510.85,412.9 1503.5,427.3" fill="#fff" stroke="#231f20" stroke-width="2.6" stroke-linejoin="miter"/>
<polygon points="1542.75,359.4 1557.45,359.4 1550.1,373.8" fill="#fff" stroke="#231f20" stroke-width="2.6" stroke-linejoin="miter"/>
<polygon points="1589.35,294.19 1604.05,294.19 1596.7,308.59" fill="#fff" stroke="#231f20" stroke-width="2.6" stroke-linejoin="miter"/>
<polygon points="1635.95,247.04 1650.65,247.04 1643.3,261.44" fill="#fff" stroke="#231f20" stroke-width="2.6" stroke-linejoin="miter"/>
<polygon points="1682.55,182.83 1697.25,182.83 1689.9,197.23" fill="#fff" stroke="#231f20" stroke-width="2.6" stroke-linejoin="miter"/>
<polygon points="1729.15,161.76 1743.85,161.76 1736.5,176.16" fill="#fff" stroke="#231f20" stroke-width="2.6" stroke-linejoin="miter"/>
<path d="M1410.3 441.68L1413.97 441.06L1417.63 440.39L1421.3 439.66L1424.96 438.87L1428.63 438L1432.29 437.06L1435.96 436.04L1439.62 434.92L1443.29 433.71L1446.95 432.4L1450.62 430.97L1454.28 429.42L1457.95 427.75L1461.61 425.93L1465.28 423.97L1468.94 421.86L1472.61 419.57L1476.27 417.11L1479.94 414.46L1483.6 411.62L1487.27 408.57L1490.93 405.3L1494.6 401.81L1498.26 398.09L1501.93 394.12L1505.59 389.91L1509.26 385.45L1512.92 380.73L1516.59 375.76L1520.26 370.54L1523.92 365.06L1527.59 359.33L1531.25 353.37L1534.92 347.18L1538.58 340.77L1542.25 334.16L1545.91 327.38L1549.58 320.44L1553.24 313.36L1556.91 306.17L1560.57 298.91L1564.24 291.59L1567.9 284.25L1571.57 276.91L1575.23 269.62L1578.9 262.39L1582.56 255.26L1586.23 248.24L1589.89 241.38L1593.56 234.68L1597.22 228.18L1600.89 221.88L1604.55 215.8L1608.22 209.95L1611.88 204.35L1615.55 199L1619.21 193.91L1622.88 189.06L1626.54 184.48L1630.21 180.14L1633.88 176.06L1637.54 172.22L1641.21 168.61L1644.87 165.24L1648.54 162.08L1652.2 159.14L1655.87 156.4L1659.53 153.85L1663.2 151.48L1666.86 149.28L1670.53 147.24L1674.19 145.36L1677.86 143.61L1681.52 142L1685.19 140.52L1688.85 139.15L1692.52 137.89L1696.18 136.73L1699.85 135.66L1703.51 134.68L1707.18 133.78L1710.84 132.95L1714.51 132.19L1718.17 131.49L1721.84 130.85L1725.5 130.26L1729.17 129.72L1732.83 129.23L1736.5 128.78" fill="none" stroke="#231f20" stroke-width="2.6" stroke-dasharray="7 5.4" stroke-linecap="round"/>
<path d="M1410.3 434.6V440.6M1401 434.6H1419.6M1401 440.6H1419.6" fill="none" stroke="#231f20" stroke-width="1.1"/>
<path d="M1456.9 407.51V413.51M1447.6 407.51H1466.2M1447.6 413.51H1466.2" fill="none" stroke="#231f20" stroke-width="1.1"/>
<path d="M1503.5 375.11V403.11M1494.2 375.11H1512.8M1494.2 403.11H1512.8" fill="none" stroke="#231f20" stroke-width="1.1"/>
<path d="M1550.1 302.85V312.85M1540.8 302.85H1559.4M1540.8 312.85H1559.4" fill="none" stroke="#231f20" stroke-width="1.1"/>
<path d="M1596.7 233.31V253.31M1587.4 233.31H1606M1587.4 253.31H1606" fill="none" stroke="#231f20" stroke-width="1.1"/>
<path d="M1643.3 169.44V185.44M1634 169.44H1652.6M1634 185.44H1652.6" fill="none" stroke="#231f20" stroke-width="1.1"/>
<path d="M1689.9 130.65V148.65M1680.6 130.65H1699.2M1680.6 148.65H1699.2" fill="none" stroke="#231f20" stroke-width="1.1"/>
<circle cx="1410.3" cy="437.6" r="8.45" fill="#fff" stroke="#231f20" stroke-width="2.6"/>
<circle cx="1456.9" cy="410.51" r="8.45" fill="#fff" stroke="#231f20" stroke-width="2.6"/>
<circle cx="1503.5" cy="389.11" r="8.45" fill="#fff" stroke="#231f20" stroke-width="2.6"/>
<circle cx="1550.1" cy="307.85" r="8.45" fill="#fff" stroke="#231f20" stroke-width="2.6"/>
<circle cx="1596.7" cy="243.31" r="8.45" fill="#fff" stroke="#231f20" stroke-width="2.6"/>
<circle cx="1643.3" cy="177.44" r="8.45" fill="#fff" stroke="#231f20" stroke-width="2.6"/>
<circle cx="1689.9" cy="139.65" r="8.45" fill="#fff" stroke="#231f20" stroke-width="2.6"/>
<circle cx="1736.5" cy="113.9" r="8.45" fill="#fff" stroke="#231f20" stroke-width="2.6"/>
</g>
<path d="M198.3 628.8H248" stroke="#231f20" stroke-width="3.0" stroke-linecap="round" fill="none"/>
<path d="M253.7 628.8H292.8" stroke="#231f20" stroke-width="3.0" stroke-dasharray="5.6 5.3" stroke-linecap="round" fill="none"/>
<circle cx="230.4" cy="627.8" r="8.45" fill="#939598" stroke="#231f20" stroke-width="2.5"/>
<circle cx="264.3" cy="627.8" r="8.45" fill="#fff" stroke="#231f20" stroke-width="2.5"/>
<text transform="translate(313.2 639.7) scale(1 1.08)" font-size="35.3">DAMGO</text>
<path d="M503.1 628.8H552.8" stroke="#231f20" stroke-width="3.0" stroke-linecap="round" fill="none"/>
<path d="M558.5 628.8H597.6" stroke="#231f20" stroke-width="3.0" stroke-dasharray="5.6 5.3" stroke-linecap="round" fill="none"/>
<polygon points="530.15,619.02 544.85,619.02 537.5,633.42" fill="#939598" stroke="#231f20" stroke-width="2.5" stroke-linejoin="miter"/>
<polygon points="563.35,619.02 578.05,619.02 570.7,633.42" fill="#fff" stroke="#231f20" stroke-width="2.5" stroke-linejoin="miter"/>
<text transform="translate(620.3 639.7) scale(1 1.08)" font-size="35.3">Morphine</text>
<path d="M830.9 628.8H880.6" stroke="#231f20" stroke-width="3.0" stroke-linecap="round" fill="none"/>
<path d="M886.3 628.8H925.4" stroke="#231f20" stroke-width="3.0" stroke-dasharray="5.6 5.3" stroke-linecap="round" fill="none"/>
<polygon points="865.3,619.9 873.2,627.8 865.3,635.7 857.4,627.8" fill="#939598" stroke="#231f20" stroke-width="2.5" stroke-linejoin="miter"/>
<polygon points="898.5,619.9 906.4,627.8 898.5,635.7 890.6,627.8" fill="#fff" stroke="#231f20" stroke-width="2.5" stroke-linejoin="miter"/>
<text transform="translate(938.8 639.7) scale(1 1.08)" font-size="35.3">Fentanyl</text>
<path d="M1132.5 628.8H1182.2" stroke="#231f20" stroke-width="3.0" stroke-linecap="round" fill="none"/>
<path d="M1187.9 628.8H1227" stroke="#231f20" stroke-width="3.0" stroke-dasharray="5.6 5.3" stroke-linecap="round" fill="none"/>
<polygon points="1158.3,627.8 1162.6,621 1171.2,621 1175.5,627.8 1171.2,634.6 1162.6,634.6" fill="#939598" stroke="#231f20" stroke-width="2.5" stroke-linejoin="miter"/>
<polygon points="1191.5,627.8 1195.8,621 1204.4,621 1208.7,627.8 1204.4,634.6 1195.8,634.6" fill="#fff" stroke="#231f20" stroke-width="2.5" stroke-linejoin="miter"/>
<text transform="translate(1243 639.7) scale(1 1.08)" font-size="35.3">Buprenorphine</text>
<path d="M1531.5 628.8H1581.2" stroke="#231f20" stroke-width="3.0" stroke-linecap="round" fill="none"/>
<path d="M1586.9 628.8H1626" stroke="#231f20" stroke-width="3.0" stroke-dasharray="5.6 5.3" stroke-linecap="round" fill="none"/>
<rect x="1557.9" y="619.8" width="16" height="16" fill="#939598" stroke="#231f20" stroke-width="2.5"/>
<rect x="1591.1" y="619.8" width="16" height="16" fill="#fff" stroke="#231f20" stroke-width="2.5"/>
<text transform="translate(1645 639.7) scale(1 1.08)" font-size="35.3">Nalbuphine</text>
<g>
<path d="M237 1056.7L4.9 1288.8" stroke="#dedfe0" stroke-width="3.9" stroke-dasharray="8.8 7.7" stroke-linecap="round" fill="none"/>
<path d="M335.3 1056.7L103.2 1288.8" stroke="#dedfe0" stroke-width="3.9" stroke-dasharray="8.8 7.7" stroke-linecap="round" fill="none"/>
<path d="M433.6 1056.7L201.5 1288.8" stroke="#dedfe0" stroke-width="3.9" stroke-dasharray="8.8 7.7" stroke-linecap="round" fill="none"/>
<path d="M531.9 1056.7L299.8 1288.8" stroke="#dedfe0" stroke-width="3.9" stroke-dasharray="8.8 7.7" stroke-linecap="round" fill="none"/>
<path d="M630.2 1056.7L398.1 1288.8" stroke="#dedfe0" stroke-width="3.9" stroke-dasharray="8.8 7.7" stroke-linecap="round" fill="none"/>
<path d="M728.5 1056.7L496.4 1288.8" stroke="#dedfe0" stroke-width="3.9" stroke-dasharray="8.8 7.7" stroke-linecap="round" fill="none"/>
<path d="M237.05 1035.4V731.38H264.35V1035.4" fill="#939598" stroke="#231f20" stroke-width="1.95" stroke-linejoin="miter"/>
<path d="M273.05 1035.4V731.38H300.35V1035.4" fill="#fff" stroke="#231f20" stroke-width="1.95" stroke-linejoin="miter"/>
<path d="M338.05 1035.4V726.08H365.35V1035.4" fill="#939598" stroke="#231f20" stroke-width="1.95" stroke-linejoin="miter"/>
<path d="M374.05 1035.4V781.58H401.35V1035.4" fill="#fff" stroke="#231f20" stroke-width="1.95" stroke-linejoin="miter"/>
<path d="M439.05 1035.4V726.08H466.35V1035.4" fill="#939598" stroke="#231f20" stroke-width="1.95" stroke-linejoin="miter"/>
<path d="M475.05 1035.4V756.68H502.35V1035.4" fill="#fff" stroke="#231f20" stroke-width="1.95" stroke-linejoin="miter"/>
<path d="M540.05 1035.4V892.88H567.35V1035.4" fill="#939598" stroke="#231f20" stroke-width="1.95" stroke-linejoin="miter"/>
<path d="M576.05 1035.4V880.38H603.35V1035.4" fill="#fff" stroke="#231f20" stroke-width="1.95" stroke-linejoin="miter"/>
<path d="M641.05 1035.4V984.77H668.35V1035.4" fill="#939598" stroke="#231f20" stroke-width="1.95" stroke-linejoin="miter"/>
<path d="M677.05 1035.4V928.93H704.35V1035.4" fill="#fff" stroke="#231f20" stroke-width="1.95" stroke-linejoin="miter"/>
<path d="M351.7 715.1V735.3M344.8 715.1H358.6M344.8 735.3H358.6" fill="none" stroke="#231f20" stroke-width="1.9" stroke-linecap="round"/>
<path d="M387.7 778.2V784M380.8 778.2H394.6M380.8 784H394.6" fill="none" stroke="#231f20" stroke-width="1.9" stroke-linecap="round"/>
<path d="M452.7 715.1V735M445.8 715.1H459.6M445.8 735H459.6" fill="none" stroke="#231f20" stroke-width="1.9" stroke-linecap="round"/>
<path d="M488.7 753.8V759.2M481.8 753.8H495.6M481.8 759.2H495.6" fill="none" stroke="#231f20" stroke-width="1.9" stroke-linecap="round"/>
<path d="M553.7 884.6V898.7M546.8 884.6H560.6M546.8 898.7H560.6" fill="none" stroke="#231f20" stroke-width="1.9" stroke-linecap="round"/>
<path d="M589.7 874.4V883.6M582.8 874.4H596.6M582.8 883.6H596.6" fill="none" stroke="#231f20" stroke-width="1.9" stroke-linecap="round"/>
<path d="M654.7 978.45V989.95M647.8 978.45H661.6M647.8 989.95H661.6" fill="none" stroke="#231f20" stroke-width="1.9" stroke-linecap="round"/>
<path d="M690.7 913.8V942.4M683.8 913.8H697.6M683.8 942.4H697.6" fill="none" stroke="#231f20" stroke-width="1.9" stroke-linecap="round"/>
<circle cx="352.06" cy="704.6" r="4.85" fill="none" stroke="#231f20" stroke-width="1.95"/>
<circle cx="342.1" cy="735.3" r="4.85" fill="none" stroke="#231f20" stroke-width="1.95"/>
<circle cx="361.6" cy="735" r="4.85" fill="none" stroke="#231f20" stroke-width="1.95"/>
<circle cx="378.4" cy="774.9" r="4.85" fill="none" stroke="#231f20" stroke-width="1.95"/>
<circle cx="378.4" cy="787.4" r="4.85" fill="none" stroke="#231f20" stroke-width="1.95"/>
<circle cx="397.4" cy="781.6" r="4.85" fill="none" stroke="#231f20" stroke-width="1.95"/>
<circle cx="452.9" cy="705.6" r="4.85" fill="none" stroke="#231f20" stroke-width="1.95"/>
<circle cx="462.5" cy="732.1" r="4.85" fill="none" stroke="#231f20" stroke-width="1.95"/>
<circle cx="443.5" cy="738.4" r="4.85" fill="none" stroke="#231f20" stroke-width="1.95"/>
<circle cx="479.5" cy="761.6" r="4.85" fill="none" stroke="#231f20" stroke-width="1.95"/>
<circle cx="489" cy="751.9" r="4.85" fill="none" stroke="#231f20" stroke-width="1.95"/>
<circle cx="498.5" cy="756.2" r="4.85" fill="none" stroke="#231f20" stroke-width="1.95"/>
<circle cx="554.1" cy="878.25" r="4.85" fill="none" stroke="#231f20" stroke-width="1.95"/>
<circle cx="563.6" cy="894.6" r="4.85" fill="none" stroke="#231f20" stroke-width="1.95"/>
<circle cx="544.6" cy="903.4" r="4.85" fill="none" stroke="#231f20" stroke-width="1.95"/>
<circle cx="580.5" cy="871.9" r="4.85" fill="none" stroke="#231f20" stroke-width="1.95"/>
<circle cx="580.5" cy="887" r="4.85" fill="none" stroke="#231f20" stroke-width="1.95"/>
<circle cx="599.7" cy="878.4" r="4.85" fill="none" stroke="#231f20" stroke-width="1.95"/>
<circle cx="645.7" cy="977" r="4.85" fill="none" stroke="#231f20" stroke-width="1.95"/>
<circle cx="664.7" cy="980.9" r="4.85" fill="none" stroke="#231f20" stroke-width="1.95"/>
<circle cx="655" cy="995.5" r="4.85" fill="none" stroke="#231f20" stroke-width="1.95"/>
<circle cx="681.5" cy="911.2" r="4.85" fill="none" stroke="#231f20" stroke-width="1.95"/>
<circle cx="700.5" cy="916.2" r="4.85" fill="none" stroke="#231f20" stroke-width="1.95"/>
<circle cx="690.9" cy="956.7" r="4.85" fill="none" stroke="#231f20" stroke-width="1.95"/>
<path d="M222.1 701.85V1035.4M208.4 1035.4H720M208.4 1035.4H222.1M208.4 974.4H222.1M208.4 913.4H222.1M208.4 852.4H222.1M208.4 791.4H222.1M208.4 730.4H222.1M214.9 1004.9H222.1M214.9 959.15H222.1M214.9 943.9H222.1M214.9 882.9H222.1M214.9 821.9H222.1M214.9 806.65H222.1M214.9 760.9H222.1M250.7 1035.4V1049M286.7 1035.4V1049M351.7 1035.4V1049M387.7 1035.4V1049M452.7 1035.4V1049M488.7 1035.4V1049M553.7 1035.4V1049M589.7 1035.4V1049M654.7 1035.4V1049M690.7 1035.4V1049" fill="none" stroke="#231f20" stroke-width="2.6"/>
<text transform="translate(203.8 1044.4)" font-size="25.3" text-anchor="end">0.0</text>
<text transform="translate(203.8 983.4)" font-size="25.3" text-anchor="end">0.2</text>
<text transform="translate(203.8 922.4)" font-size="25.3" text-anchor="end">0.4</text>
<text transform="translate(203.8 861.4)" font-size="25.3" text-anchor="end">0.6</text>
<text transform="translate(203.8 800.4)" font-size="25.3" text-anchor="end">0.8</text>
<text transform="translate(203.8 739.4)" font-size="25.3" text-anchor="end">1.0</text>
<text transform="translate(144.6 867.6) rotate(-90) scale(1 1.05)" font-size="27" text-anchor="middle">Stephenson’s Efficacy, ε</text>
<text transform="translate(256.7 1070.4) rotate(-45) scale(1 1.04)" font-size="25.3" text-anchor="end">binding</text>
<text transform="translate(292.7 1070.4) rotate(-45) scale(1 1.04)" font-size="25.3" text-anchor="end">release</text>
<text transform="translate(357.7 1070.4) rotate(-45) scale(1 1.04)" font-size="25.3" text-anchor="end">binding</text>
<text transform="translate(393.7 1070.4) rotate(-45) scale(1 1.04)" font-size="25.3" text-anchor="end">release</text>
<text transform="translate(458.7 1070.4) rotate(-45) scale(1 1.04)" font-size="25.3" text-anchor="end">binding</text>
<text transform="translate(494.7 1070.4) rotate(-45) scale(1 1.04)" font-size="25.3" text-anchor="end">release</text>
<text transform="translate(559.7 1070.4) rotate(-45) scale(1 1.04)" font-size="25.3" text-anchor="end">binding</text>
<text transform="translate(595.7 1070.4) rotate(-45) scale(1 1.04)" font-size="25.3" text-anchor="end">release</text>
<text transform="translate(660.7 1070.4) rotate(-45) scale(1 1.04)" font-size="25.3" text-anchor="end">binding</text>
<text transform="translate(696.7 1070.4) rotate(-45) scale(1 1.04)" font-size="25.3" text-anchor="end">release</text>
<text transform="translate(189.3 1165.1) rotate(-45) scale(1 1.05)" font-size="27" text-anchor="end">DAMGO</text>
<text transform="translate(285.5 1164.2) rotate(-45) scale(1 1.05)" font-size="27" text-anchor="end">Morphine</text>
<text transform="translate(385.9 1164) rotate(-45) scale(1 1.05)" font-size="27" text-anchor="end">Fentanyl</text>
<text transform="translate(485.8 1162.1) rotate(-45) scale(1 1.05)" font-size="27" text-anchor="end">Buprenorphine</text>
<text transform="translate(585.2 1164.4) rotate(-45) scale(1 1.05)" font-size="27" text-anchor="end">Nalbuphine</text>
<path d="M352.6 685.85H388.4" stroke="#231f20" stroke-width="4.6" stroke-linecap="round" fill="none"/>
<text transform="translate(370.67 680.6) scale(1 1.06)" font-size="24.8" text-anchor="middle" font-family="DejaVu Sans, sans-serif" font-weight="bold" stroke-width="1.1" letter-spacing="0.33">**</text>
<path d="M453.7 685.85H489.5" stroke="#231f20" stroke-width="4.6" stroke-linecap="round" fill="none"/>
<text transform="translate(471.77 680.6) scale(1 1.06)" font-size="24.8" text-anchor="middle" font-family="DejaVu Sans, sans-serif" font-weight="bold" stroke-width="1.1" letter-spacing="0.33">*</text>
<path d="M552.9 841.2H588.7" stroke="#231f20" stroke-width="4.6" stroke-linecap="round" fill="none"/>
<text transform="translate(570.8 826.3) scale(1 1.04)" font-size="25.3" text-anchor="middle">ns</text>
<path d="M654.5 893.05H690.3" stroke="#231f20" stroke-width="4.6" stroke-linecap="round" fill="none"/>
<text transform="translate(672.57 887.8) scale(1 1.06)" font-size="24.8" text-anchor="middle" font-family="DejaVu Sans, sans-serif" font-weight="bold" stroke-width="1.1" letter-spacing="0.33">*</text>
</g>
<g>
<path d="M911.9 1054.8L679.8 1286.9" stroke="#dedfe0" stroke-width="3.9" stroke-dasharray="8.8 7.7" stroke-linecap="round" fill="none"/>
<path d="M1010.25 1054.8L778.15 1286.9" stroke="#dedfe0" stroke-width="3.9" stroke-dasharray="8.8 7.7" stroke-linecap="round" fill="none"/>
<path d="M1108.6 1054.8L876.5 1286.9" stroke="#dedfe0" stroke-width="3.9" stroke-dasharray="8.8 7.7" stroke-linecap="round" fill="none"/>
<path d="M1206.95 1054.8L974.85 1286.9" stroke="#dedfe0" stroke-width="3.9" stroke-dasharray="8.8 7.7" stroke-linecap="round" fill="none"/>
<path d="M1305.3 1054.8L1073.2 1286.9" stroke="#dedfe0" stroke-width="3.9" stroke-dasharray="8.8 7.7" stroke-linecap="round" fill="none"/>
<path d="M1403.65 1054.8L1171.55 1286.9" stroke="#dedfe0" stroke-width="3.9" stroke-dasharray="8.8 7.7" stroke-linecap="round" fill="none"/>
<path d="M911.3 705.1V1035.4H938.6V705.1Z" fill="#939598" stroke="none"/>
<path d="M911.3 705.1V1035.4M938.6 705.1V1035.4" fill="none" stroke="#231f20" stroke-width="1.95"/>
<path d="M947.25 705.1V1035.4H974.55V705.1Z" fill="#fff" stroke="none"/>
<path d="M947.25 705.1V1035.4M974.55 705.1V1035.4" fill="none" stroke="#231f20" stroke-width="1.95"/>
<path d="M1011.55 705.1V1035.4H1038.85V705.1Z" fill="#939598" stroke="none"/>
<path d="M1011.55 705.1V1035.4M1038.85 705.1V1035.4" fill="none" stroke="#231f20" stroke-width="1.95"/>
<path d="M1047.5 1035.4V788.43H1074.8V1035.4" fill="#fff" stroke="#231f20" stroke-width="1.95" stroke-linejoin="miter"/>
<path d="M1111.8 705.1V1035.4H1139.1V705.1Z" fill="#939598" stroke="none"/>
<path d="M1111.8 705.1V1035.4M1139.1 705.1V1035.4" fill="none" stroke="#231f20" stroke-width="1.95"/>
<path d="M1147.75 1035.4V759.58H1175.05V1035.4" fill="#fff" stroke="#231f20" stroke-width="1.95" stroke-linejoin="miter"/>
<path d="M1212.05 1035.4V853.08H1239.35V1035.4" fill="#939598" stroke="#231f20" stroke-width="1.95" stroke-linejoin="miter"/>
<path d="M1248 1035.4V853.08H1275.3V1035.4" fill="#fff" stroke="#231f20" stroke-width="1.95" stroke-linejoin="miter"/>
<path d="M1312.3 1035.4V916.38H1339.6V1035.4" fill="#939598" stroke="#231f20" stroke-width="1.95" stroke-linejoin="miter"/>
<path d="M1348.25 1035.4V876.93H1375.55V1035.4" fill="#fff" stroke="#231f20" stroke-width="1.95" stroke-linejoin="miter"/>
<path d="M1061.15 780.3V796.8M1054.25 780.3H1068.05M1054.25 796.8H1068.05" fill="none" stroke="#231f20" stroke-width="1.9" stroke-linecap="round"/>
<path d="M1161.4 744.3V780.6M1154.5 744.3H1168.3M1154.5 780.6H1168.3" fill="none" stroke="#231f20" stroke-width="1.9" stroke-linecap="round"/>
<path d="M1225.7 850.7V854.1M1218.8 850.7H1232.6M1218.8 854.1H1232.6" fill="none" stroke="#231f20" stroke-width="1.9" stroke-linecap="round"/>
<path d="M1261.65 850.7V854.1M1254.75 850.7H1268.55M1254.75 854.1H1268.55" fill="none" stroke="#231f20" stroke-width="1.9" stroke-linecap="round"/>
<path d="M1325.95 913.8V918.1M1319.05 913.8H1332.85M1319.05 918.1H1332.85" fill="none" stroke="#231f20" stroke-width="1.9" stroke-linecap="round"/>
<path d="M1361.9 872.9V881.05M1355 872.9H1368.8M1355 881.05H1368.8" fill="none" stroke="#231f20" stroke-width="1.9" stroke-linecap="round"/>
<path d="M895.96 704.3V1035.4M882.26 1035.4H1391M882.26 1035.4H895.96M882.26 943.9H895.96M882.26 852.4H895.96M882.26 760.9H895.96M882.26 705.6H895.96M888.76 980.31H895.96M888.76 958.07H895.96M888.76 888.81H895.96M888.76 866.57H895.96M888.76 797.31H895.96M888.76 775.07H895.96M924.95 1035.4V1049M960.9 1035.4V1049M1025.2 1035.4V1049M1061.15 1035.4V1049M1125.45 1035.4V1049M1161.4 1035.4V1049M1225.7 1035.4V1049M1261.65 1035.4V1049M1325.95 1035.4V1049M1361.9 1035.4V1049" fill="none" stroke="#231f20" stroke-width="2.6"/>
<text transform="translate(877.66 1044.4)" font-size="25.3" text-anchor="end">1</text>
<text transform="translate(877.66 952.9)" font-size="25.3" text-anchor="end">10</text>
<text transform="translate(877.66 861.4)" font-size="25.3" text-anchor="end">100</text>
<text transform="translate(877.66 769.9)" font-size="25.3" text-anchor="end">1000</text>
<text transform="translate(880.76 714.2)" font-size="26.3" text-anchor="end" font-style="italic">θ</text>
<text transform="translate(819 871.4) rotate(-90) scale(1 1.05)" font-size="26.5" text-anchor="middle">Two-State Efficacy, <tspan font-style="italic" font-size="23">α</tspan></text>
<text transform="translate(930.95 1070.4) rotate(-45) scale(1 1.04)" font-size="25.3" text-anchor="end">binding</text>
<text transform="translate(966.9 1070.4) rotate(-45) scale(1 1.04)" font-size="25.3" text-anchor="end">release</text>
<text transform="translate(1031.2 1070.4) rotate(-45) scale(1 1.04)" font-size="25.3" text-anchor="end">binding</text>
<text transform="translate(1067.15 1070.4) rotate(-45) scale(1 1.04)" font-size="25.3" text-anchor="end">release</text>
<text transform="translate(1131.45 1070.4) rotate(-45) scale(1 1.04)" font-size="25.3" text-anchor="end">binding</text>
<text transform="translate(1167.4 1070.4) rotate(-45) scale(1 1.04)" font-size="25.3" text-anchor="end">release</text>
<text transform="translate(1231.7 1070.4) rotate(-45) scale(1 1.04)" font-size="25.3" text-anchor="end">binding</text>
<text transform="translate(1267.65 1070.4) rotate(-45) scale(1 1.04)" font-size="25.3" text-anchor="end">release</text>
<text transform="translate(1331.95 1070.4) rotate(-45) scale(1 1.04)" font-size="25.3" text-anchor="end">binding</text>
<text transform="translate(1367.9 1070.4) rotate(-45) scale(1 1.04)" font-size="25.3" text-anchor="end">release</text>
<text transform="translate(865.65 1161) rotate(-45) scale(1 1.05)" font-size="27" text-anchor="end">DAMGO</text>
<text transform="translate(960.1 1160.5) rotate(-45) scale(1 1.05)" font-size="27" text-anchor="end">Morphine</text>
<text transform="translate(1063.35 1162.1) rotate(-45) scale(1 1.05)" font-size="27" text-anchor="end">Fentanyl</text>
<text transform="translate(1160.1 1161.9) rotate(-45) scale(1 1.05)" font-size="27" text-anchor="end">Buprenorphine</text>
<text transform="translate(1256.95 1160) rotate(-45) scale(1 1.05)" font-size="27" text-anchor="end">Nalbuphine</text>
<path d="M1022.65 689.4H1058.45" stroke="#231f20" stroke-width="4.6" stroke-linecap="round" fill="none"/>
<text transform="translate(1040.72 684.15) scale(1 1.06)" font-size="24.8" text-anchor="middle" font-family="DejaVu Sans, sans-serif" font-weight="bold" stroke-width="1.1" letter-spacing="0.33">****</text>
<path d="M1123.5 689.4H1159.3" stroke="#231f20" stroke-width="4.6" stroke-linecap="round" fill="none"/>
<text transform="translate(1141.57 684.15) scale(1 1.06)" font-size="24.8" text-anchor="middle" font-family="DejaVu Sans, sans-serif" font-weight="bold" stroke-width="1.1" letter-spacing="0.33">*</text>
<path d="M1225.75 835.1H1261.55" stroke="#231f20" stroke-width="4.6" stroke-linecap="round" fill="none"/>
<text transform="translate(1243.65 820.2) scale(1 1.04)" font-size="25.3" text-anchor="middle">ns</text>
<path d="M1323.3 859.6H1359.1" stroke="#231f20" stroke-width="4.6" stroke-linecap="round" fill="none"/>
<text transform="translate(1341.37 854.35) scale(1 1.06)" font-size="24.8" text-anchor="middle" font-family="DejaVu Sans, sans-serif" font-weight="bold" stroke-width="1.1" letter-spacing="0.33">****</text>
</g>
<g>
<path d="M1565.9 1056.7L1333.8 1288.8" stroke="#dedfe0" stroke-width="3.9" stroke-dasharray="8.8 7.7" stroke-linecap="round" fill="none"/>
<path d="M1663.05 1056.7L1430.95 1288.8" stroke="#dedfe0" stroke-width="3.9" stroke-dasharray="8.8 7.7" stroke-linecap="round" fill="none"/>
<path d="M1760.2 1056.7L1528.1 1288.8" stroke="#dedfe0" stroke-width="3.9" stroke-dasharray="8.8 7.7" stroke-linecap="round" fill="none"/>
<path d="M1857.35 1056.7L1625.25 1288.8" stroke="#dedfe0" stroke-width="3.9" stroke-dasharray="8.8 7.7" stroke-linecap="round" fill="none"/>
<path d="M1954.5 1056.7L1722.4 1288.8" stroke="#dedfe0" stroke-width="3.9" stroke-dasharray="8.8 7.7" stroke-linecap="round" fill="none"/>
<path d="M2051.65 1056.7L1819.55 1288.8" stroke="#dedfe0" stroke-width="3.9" stroke-dasharray="8.8 7.7" stroke-linecap="round" fill="none"/>
<path d="M1565.3 707V1035.3H1592.6V707Z" fill="#939598" stroke="none"/>
<path d="M1565.3 707V1035.3M1592.6 707V1035.3" fill="none" stroke="#231f20" stroke-width="1.95"/>
<path d="M1601.1 707V1035.3H1628.4V707Z" fill="#fff" stroke="none"/>
<path d="M1601.1 707V1035.3M1628.4 707V1035.3" fill="none" stroke="#231f20" stroke-width="1.95"/>
<path d="M1665.2 707V1035.3H1692.5V707Z" fill="#939598" stroke="none"/>
<path d="M1665.2 707V1035.3M1692.5 707V1035.3" fill="none" stroke="#231f20" stroke-width="1.95"/>
<path d="M1701 1035.3V895.73H1728.3V1035.3" fill="#fff" stroke="#231f20" stroke-width="1.95" stroke-linejoin="miter"/>
<path d="M1765.1 707V1035.3H1792.4V707Z" fill="#939598" stroke="none"/>
<path d="M1765.1 707V1035.3M1792.4 707V1035.3" fill="none" stroke="#231f20" stroke-width="1.95"/>
<path d="M1800.9 1035.3V867.68H1828.2V1035.3" fill="#fff" stroke="#231f20" stroke-width="1.95" stroke-linejoin="miter"/>
<path d="M1865 1035.3V958.38H1892.3V1035.3" fill="#939598" stroke="#231f20" stroke-width="1.95" stroke-linejoin="miter"/>
<path d="M1900.8 1035.3V951.88H1928.1V1035.3" fill="#fff" stroke="#231f20" stroke-width="1.95" stroke-linejoin="miter"/>
<path d="M1964.9 1035.3V1011.12H1992.2V1035.3" fill="#939598" stroke="#231f20" stroke-width="1.95" stroke-linejoin="miter"/>
<path d="M2000.7 1035.3V975.88H2028V1035.3" fill="#fff" stroke="#231f20" stroke-width="1.95" stroke-linejoin="miter"/>
<path d="M1714.65 887.95V903.75M1707.75 887.95H1721.55M1707.75 903.75H1721.55" fill="none" stroke="#231f20" stroke-width="1.9" stroke-linecap="round"/>
<path d="M1814.55 855.05V885.35M1807.65 855.05H1821.45M1807.65 885.35H1821.45" fill="none" stroke="#231f20" stroke-width="1.9" stroke-linecap="round"/>
<path d="M1878.65 954.7V960.9M1871.75 954.7H1885.55M1871.75 960.9H1885.55" fill="none" stroke="#231f20" stroke-width="1.9" stroke-linecap="round"/>
<path d="M1914.45 949.5V953.55M1907.55 949.5H1921.35M1907.55 953.55H1921.35" fill="none" stroke="#231f20" stroke-width="1.9" stroke-linecap="round"/>
<path d="M1978.55 1009.2V1012.1M1971.65 1009.2H1985.45M1971.65 1012.1H1985.45" fill="none" stroke="#231f20" stroke-width="1.9" stroke-linecap="round"/>
<path d="M2014.35 972.05V978.9M2007.45 972.05H2021.25M2007.45 978.9H2021.25" fill="none" stroke="#231f20" stroke-width="1.9" stroke-linecap="round"/>
<path d="M1550.5 706.2V1035.3M1536.8 1035.3H2043M1536.8 1035.75H1550.5M1536.8 953.65H1550.5M1536.8 871.55H1550.5M1536.8 789.45H1550.5M1536.8 707.5H1550.5M1543.3 962.25H1550.5M1543.3 975.15H1550.5M1543.3 993.95H1550.5M1543.3 880.15H1550.5M1543.3 893.05H1550.5M1543.3 911.85H1550.5M1543.3 798.05H1550.5M1543.3 810.95H1550.5M1543.3 829.75H1550.5M1543.3 715.95H1550.5M1543.3 728.85H1550.5M1543.3 747.65H1550.5M1578.95 1035.3V1048.9M1614.75 1035.3V1048.9M1678.85 1035.3V1048.9M1714.65 1035.3V1048.9M1778.75 1035.3V1048.9M1814.55 1035.3V1048.9M1878.65 1035.3V1048.9M1914.45 1035.3V1048.9M1978.55 1035.3V1048.9M2014.35 1035.3V1048.9" fill="none" stroke="#231f20" stroke-width="2.6"/>
<text transform="translate(1532.2 1044.75)" font-size="25.3" text-anchor="end">0.1</text>
<text transform="translate(1532.2 962.65)" font-size="25.3" text-anchor="end">1</text>
<text transform="translate(1532.2 880.55)" font-size="25.3" text-anchor="end">10</text>
<text transform="translate(1532.2 798.45)" font-size="25.3" text-anchor="end">100</text>
<text transform="translate(1535.3 716.1)" font-size="26.3" text-anchor="end" font-style="italic">θ</text>
<text transform="translate(1473.8 871.2) rotate(-90) scale(1 1.05)" font-size="26.5" text-anchor="middle">Operational Efficacy, <tspan font-style="italic" font-size="23">τ</tspan></text>
<text transform="translate(1584.95 1070.3) rotate(-45) scale(1 1.04)" font-size="25.3" text-anchor="end">binding</text>
<text transform="translate(1620.75 1070.3) rotate(-45) scale(1 1.04)" font-size="25.3" text-anchor="end">release</text>
<text transform="translate(1684.85 1070.3) rotate(-45) scale(1 1.04)" font-size="25.3" text-anchor="end">binding</text>
<text transform="translate(1720.65 1070.3) rotate(-45) scale(1 1.04)" font-size="25.3" text-anchor="end">release</text>
<text transform="translate(1784.75 1070.3) rotate(-45) scale(1 1.04)" font-size="25.3" text-anchor="end">binding</text>
<text transform="translate(1820.55 1070.3) rotate(-45) scale(1 1.04)" font-size="25.3" text-anchor="end">release</text>
<text transform="translate(1884.65 1070.3) rotate(-45) scale(1 1.04)" font-size="25.3" text-anchor="end">binding</text>
<text transform="translate(1920.45 1070.3) rotate(-45) scale(1 1.04)" font-size="25.3" text-anchor="end">release</text>
<text transform="translate(1984.55 1070.3) rotate(-45) scale(1 1.04)" font-size="25.3" text-anchor="end">binding</text>
<text transform="translate(2020.35 1070.3) rotate(-45) scale(1 1.04)" font-size="25.3" text-anchor="end">release</text>
<text transform="translate(1519.65 1162.4) rotate(-45) scale(1 1.05)" font-size="27" text-anchor="end">DAMGO</text>
<text transform="translate(1614.55 1162) rotate(-45) scale(1 1.05)" font-size="27" text-anchor="end">Morphine</text>
<text transform="translate(1713.95 1162.4) rotate(-45) scale(1 1.05)" font-size="27" text-anchor="end">Fentanyl</text>
<text transform="translate(1812.25 1162.3) rotate(-45) scale(1 1.05)" font-size="27" text-anchor="end">Buprenorphine</text>
<text transform="translate(1909.55 1161.5) rotate(-45) scale(1 1.05)" font-size="27" text-anchor="end">Nalbuphine</text>
<path d="M1676.7 688.05H1712.5" stroke="#231f20" stroke-width="4.6" stroke-linecap="round" fill="none"/>
<text transform="translate(1694.77 682.8) scale(1 1.06)" font-size="24.8" text-anchor="middle" font-family="DejaVu Sans, sans-serif" font-weight="bold" stroke-width="1.1" letter-spacing="0.33">****</text>
<path d="M1774.7 688.05H1810.5" stroke="#231f20" stroke-width="4.6" stroke-linecap="round" fill="none"/>
<text transform="translate(1792.77 682.8) scale(1 1.06)" font-size="24.8" text-anchor="middle" font-family="DejaVu Sans, sans-serif" font-weight="bold" stroke-width="1.1" letter-spacing="0.33">*</text>
<path d="M1879.4 927.55H1915.2" stroke="#231f20" stroke-width="4.6" stroke-linecap="round" fill="none"/>
<text transform="translate(1897.3 912.65) scale(1 1.04)" font-size="25.3" text-anchor="middle">ns</text>
<path d="M1976.2 945H2012" stroke="#231f20" stroke-width="4.6" stroke-linecap="round" fill="none"/>
<text transform="translate(1994.27 939.75) scale(1 1.06)" font-size="24.8" text-anchor="middle" font-family="DejaVu Sans, sans-serif" font-weight="bold" stroke-width="1.1" letter-spacing="0.33">****</text>
</g>
</g>
</svg>
</body>
</html>
